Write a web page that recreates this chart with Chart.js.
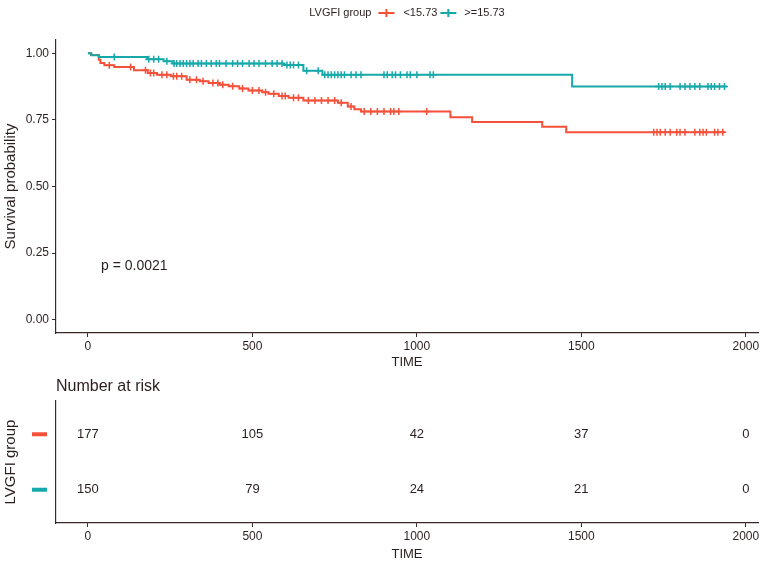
<!DOCTYPE html>
<html>
<head>
<meta charset="utf-8">
<script src="https://cdn.jsdelivr.net/npm/chart.js@4.4.1/dist/chart.umd.min.js"></script>
<style>
  html, body { margin: 0; padding: 0; background: #fff; }
  #wrap { position: relative; width: 767px; height: 564px; }
  #survWrap { position: absolute; left: 0; top: 0; width: 767px; height: 372px; }
  #riskWrap { position: absolute; left: 0; top: 372px; width: 767px; height: 192px; }
</style>
</head>
<body>
<div id="wrap">
  <div id="survWrap"><canvas id="survChart" width="767" height="372"></canvas></div>
  <div id="riskWrap"><canvas id="riskChart" width="767" height="192"></canvas></div>
</div>
<script>
// Groups
const groupNames = ['<15.73', '>=15.73'];
const legendTitle = 'LVGFI group';

// Kaplan-Meier steps (time, survival after each drop)
const timeLow = [0, 10, 33, 38, 50, 80, 140, 182, 210, 252, 300, 340, 367, 400, 428, 460, 488, 530, 549, 580, 610, 655, 760, 790, 810, 830, 1102, 1168, 1381, 1454, 1936];
const survLow = [1, 0.994, 0.976, 0.964, 0.955, 0.949, 0.936, 0.926, 0.92, 0.914, 0.901, 0.895, 0.889, 0.882, 0.876, 0.868, 0.86, 0.854, 0.848, 0.84, 0.833, 0.823, 0.814, 0.80, 0.79, 0.782, 0.76, 0.742, 0.724, 0.704, 0.704];

const timeHigh = [0, 10, 33, 180, 230, 258, 595, 655, 713, 1472, 1942];
const survHigh = [1, 0.993, 0.986, 0.978, 0.970, 0.962, 0.956, 0.935, 0.92, 0.875, 0.875];

// Censored observations (times)
const censorLow = [65, 130, 175, 190, 200, 225, 240, 260, 270, 285, 310, 330, 350, 380, 395, 410, 440, 470, 500, 520, 540, 565, 590, 600, 625, 640, 670, 690, 710, 730, 750, 770, 800, 840, 860, 880, 900, 920, 930, 945, 1030, 1720, 1730, 1740, 1755, 1770, 1790, 1800, 1815, 1845, 1860, 1870, 1880, 1905, 1915, 1930];
const censorHigh = [80, 185, 200, 215, 240, 262, 270, 280, 290, 300, 310, 320, 335, 345, 360, 375, 390, 400, 420, 440, 455, 470, 490, 505, 520, 540, 560, 575, 590, 605, 615, 625, 640, 665, 700, 720, 730, 740, 750, 760, 770, 780, 800, 815, 830, 900, 910, 925, 935, 950, 970, 980, 1000, 1040, 1050, 1735, 1745, 1755, 1770, 1800, 1815, 1830, 1845, 1860, 1885, 1895, 1905, 1920, 1935];

// Ticks
const xTicks = [0, 500, 1000, 1500, 2000];
const yTicks = [0, 0.25, 0.5, 0.75, 1];

// Number at risk table
const riskTimes = [0, 500, 1000, 1500, 2000];
const riskLow = [177, 105, 42, 37, 0];
const riskHigh = [150, 79, 24, 21, 0];

const pText = 'p = 0.0021';

// Styles
const RED = '#F5503A';
const TEAL = '#17A9AA';
const INK = '#2a1e1e';
const AXIS = '#3a2828';
const FONT = "'Liberation Sans', Arial, sans-serif";

// survival value at a time, from the step arrays
function survAt(times, surv, t) {
    let s = surv[0];
    for (let i = 0; i < times.length; i++) {
        if (times[i] <= t) s = surv[i];
    }
    return s;
}

const steps = (times, surv) => times.map((t, i) => ({ x: t, y: surv[i] }));
const marks = (cens, times, surv) => cens.map(t => ({ x: t, y: survAt(times, surv, t) }));

// legend drawn in the ggplot way: title then items on one row
const legendPlugin = {
    id: 'ggLegend',
    afterDraw(chart) {
        const ctx = chart.ctx;
        const area = chart.chartArea;
        ctx.save();
        ctx.font = '11px ' + FONT;
        ctx.textBaseline = 'middle';
        ctx.fillStyle = INK;
        const y = 13;
        const symW = 16;
        const wTitle = ctx.measureText(legendTitle).width;
        const w0 = ctx.measureText(groupNames[0]).width;
        const w1 = ctx.measureText(groupNames[1]).width;
        const total = wTitle + 7 + symW + 9 + w0 + 3 + symW + 8 + w1;
        let x = (area.left + area.right) / 2 - total / 2;
        ctx.fillText(legendTitle, x, y);
        x += wTitle + 7;
        [[RED, groupNames[0], w0], [TEAL, groupNames[1], w1]].forEach(([col, label, w], k) => {
            ctx.strokeStyle = col;
            ctx.lineWidth = 2;
            ctx.beginPath();
            ctx.moveTo(x, y); ctx.lineTo(x + symW, y);
            ctx.moveTo(x + symW / 2, y - 4); ctx.lineTo(x + symW / 2, y + 4);
            ctx.stroke();
            x += symW + (k === 0 ? 9 : 8);
            ctx.fillStyle = INK;
            ctx.fillText(label, x, y);
            x += w + 3;
        });
        ctx.restore();
    }
};

const pValuePlugin = {
    id: 'pValue',
    afterDatasetsDraw(chart) {
        const ctx = chart.ctx;
        const xs = chart.scales.x, ys = chart.scales.y;
        ctx.save();
        ctx.font = '14px ' + FONT;
        ctx.fillStyle = INK;
        ctx.textBaseline = 'middle';
        ctx.fillText(pText, xs.getPixelForValue(40), ys.getPixelForValue(0.2));
        ctx.restore();
    }
};

const axisX = () => ({
    type: 'linear',
    min: -97,
    max: 2037,
    afterBuildTicks: s => { s.ticks = xTicks.map(v => ({ value: v })); },
    ticks: { color: INK, font: { family: FONT, size: 12 }, padding: 2, maxRotation: 0, autoSkip: false, callback: v => String(v) },
    grid: { display: true, drawOnChartArea: false, drawTicks: true, tickLength: 4, color: AXIS, lineWidth: 1 },
    border: { display: true, color: AXIS, width: 1.2 },
    title: { display: true, text: 'TIME', color: INK, font: { family: FONT, size: 13 }, padding: { top: 2, bottom: 2 } }
});

const survX = axisX();
survX.afterFit = s => { s.height = 39; };

new Chart(document.getElementById('survChart'), {
    type: 'line',
    data: {
        datasets: [
            { label: groupNames[1] + ' censor', type: 'scatter', data: marks(censorHigh, timeHigh, survHigh), pointStyle: 'cross', pointRadius: 3.5, borderColor: TEAL, borderWidth: 1.5, showLine: false, order: 0 },
            { label: groupNames[0] + ' censor', type: 'scatter', data: marks(censorLow, timeLow, survLow), pointStyle: 'cross', pointRadius: 3.5, borderColor: RED, borderWidth: 1.5, showLine: false, order: 1 },
            { label: groupNames[1], data: steps(timeHigh, survHigh), stepped: 'before', borderColor: TEAL, borderWidth: 2, pointRadius: 0, fill: false, order: 2 },
            { label: groupNames[0], data: steps(timeLow, survLow), stepped: 'before', borderColor: RED, borderWidth: 2, pointRadius: 0, fill: false, order: 3 }
        ]
    },
    options: {
        responsive: false,
        devicePixelRatio: 1,
        animation: false,
        layout: { padding: { top: 40, right: 9, left: 0, bottom: 0 } },
        plugins: { legend: { display: false }, tooltip: { enabled: false } },
        scales: {
            x: survX,
            y: {
                type: 'linear',
                min: -0.05,
                max: 1.05,
                afterBuildTicks: s => { s.ticks = yTicks.map(v => ({ value: v })); },
                afterFit: s => { s.width = 56; },
                ticks: { color: INK, font: { family: FONT, size: 12 }, padding: 3, callback: v => v.toFixed(2) },
                grid: { display: true, drawOnChartArea: false, drawTicks: true, tickLength: 4, color: AXIS, lineWidth: 1 },
                border: { display: true, color: AXIS, width: 1.2 },
                title: { display: true, text: 'Survival probability', color: INK, font: { family: FONT, size: 15 }, padding: { top: 2, bottom: 0 } }
            }
        }
    },
    plugins: [legendPlugin, pValuePlugin]
});

// Risk table
const rowLow = 2, rowHigh = 1;

const riskPlugin = {
    id: 'riskText',
    afterDatasetsDraw(chart) {
        const ctx = chart.ctx;
        const ys = chart.scales.y;
        const area = chart.chartArea;
        ctx.save();
        // numbers
        ctx.font = '13px ' + FONT;
        ctx.fillStyle = INK;
        ctx.textAlign = 'center';
        ctx.textBaseline = 'middle';
        chart.data.datasets.forEach((ds, di) => {
            chart.getDatasetMeta(di).data.forEach((pt, i) => {
                ctx.fillText(String(ds.data[i].n), pt.x, pt.y);
            });
        });
        // colour keys as row labels
        ctx.fillStyle = RED;
        ctx.fillRect(32, ys.getPixelForValue(rowLow) - 2, 15, 4);
        ctx.fillStyle = TEAL;
        ctx.fillRect(32, ys.getPixelForValue(rowHigh) - 2, 15, 4);
        // title
        ctx.textAlign = 'left';
        ctx.font = '16px ' + FONT;
        ctx.fillStyle = INK;
        ctx.fillText('Number at risk', area.left, 15);
        ctx.restore();
    }
};

const riskX = axisX();
riskX.afterFit = s => { s.height = 41; };

new Chart(document.getElementById('riskChart'), {
    type: 'scatter',
    data: {
        datasets: [
            { label: groupNames[0], data: riskTimes.map((t, i) => ({ x: t, y: rowLow, n: riskLow[i] })), pointRadius: 0 },
            { label: groupNames[1], data: riskTimes.map((t, i) => ({ x: t, y: rowHigh, n: riskHigh[i] })), pointRadius: 0 }
        ]
    },
    options: {
        responsive: false,
        devicePixelRatio: 1,
        animation: false,
        layout: { padding: { top: 29, right: 9, left: 0, bottom: 0 } },
        plugins: { legend: { display: false }, tooltip: { enabled: false } },
        scales: {
            x: riskX,
            y: {
                type: 'linear',
                min: 0.4,
                max: 2.6,
                afterBuildTicks: s => { s.ticks = [rowHigh, rowLow].map(v => ({ value: v })); },
                afterFit: s => { s.width = 56; },
                ticks: { callback: () => '' },
                grid: { display: false },
                border: { display: true, color: AXIS, width: 1.2 },
                title: { display: true, text: legendTitle, color: INK, font: { family: FONT, size: 15 }, padding: { top: 2, bottom: 0 } }
            }
        }
    },
    plugins: [riskPlugin]
});
</script>
</body>
</html>
